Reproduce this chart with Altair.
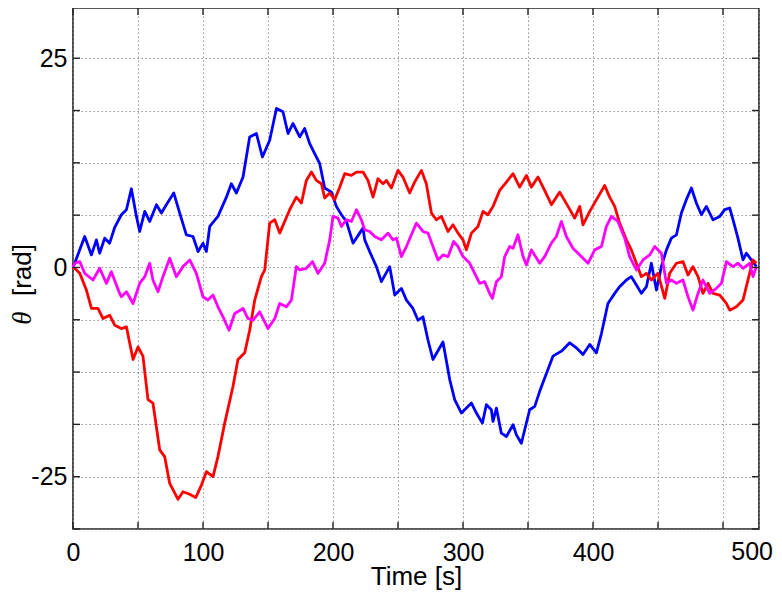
import altair as alt
import pandas as pd

# ---- data (time in axis tick units, angle in rad) ----
blue_t = [0, 1.3, 9.0, 14.2, 18.0, 20.5, 24.4, 28.2, 32.1, 37.2, 41.1, 44.9, 48.8, 51.3, 55.2, 59.0,
          64.2, 68.0, 71.8, 77.5, 82.1, 87.2, 92.3, 96.2, 100.0, 102.6, 105.2, 111.5, 118.0, 121.8,
          125.7, 130.8, 135.9, 141.1, 145.7, 151.3, 156.5, 161.5, 165.4, 169.2, 174.4, 178.2, 182.1,
          185.9, 189.8, 193.6, 198.8, 202.6, 206.5, 210.3, 215.4, 220.5, 223.1, 224.4, 228.2, 233.4,
          237.2, 243.6, 247.5, 252.6, 256.5, 261.5, 265.4, 269.2, 273.1, 276.9, 284.6, 289.8, 293.6,
          298.8, 306.5, 310.3, 314.9, 318.0, 321.8, 323.1, 325.7, 329.5, 333.4, 338.5, 341.1, 344.9,
          351.3, 355.2, 359.0, 369.2, 375.7, 382.1, 387.2, 392.3, 397.5, 402.6, 406.5, 411.5, 416.7,
          420.5, 425.7, 429.5, 433.4, 437.2, 441.1, 444.9, 448.8, 452.6, 456.5, 460.3, 464.2, 468.0,
          471.8, 475.7, 479.5, 483.4, 487.2, 492.3, 497.5, 501.3, 505.2, 507.7, 511.5, 515.4, 518.0,
          521.8, 525.7]
blue_v = [0, 0.5, 3.7, 1.5, 3.3, 1.7, 3.5, 2.9, 4.8, 6.3, 6.9, 9.4, 6.1, 4.3, 6.7, 5.5,
          7.5, 6.5, 7.5, 8.9, 6.5, 3.9, 3.7, 1.9, 2.9, 1.9, 4.9, 6.1, 8.4, 10.0,
          8.9, 10.8, 15.6, 16.0, 13.2, 15.2, 19.0, 18.6, 16.0, 17.2, 15.6, 16.6, 14.8,
          13.6, 12.4, 9.5, 9.0, 7.3, 6.3, 5.5, 2.9, 4.1, 4.7, 3.3, 1.9, 0.1,
          -1.7, 0.1, -3.3, -2.5, -3.9, -4.9, -6.3, -5.9, -8.7, -11.0, -8.9, -13.4, -15.8,
          -17.4, -16.2, -17.4, -18.6, -16.4, -17.0, -18.4, -16.8, -19.8, -20.2, -18.8, -20.0, -21.0,
          -17.0, -16.6, -14.8, -10.6, -10.0, -9.0, -9.6, -10.4, -9.2, -10.2, -7.9, -4.3, -3.1,
          -2.3, -1.5, -1.1, -2.1, -3.1, -2.3, 0.5, -2.7, 0.1, 2.1, 3.5, 3.9, 6.5,
          8.1, 9.5, 7.7, 6.3, 7.3, 5.7, 6.1, 6.9, 7.1, 5.7, 3.5, 0.9, 1.7,
          0.9, 0.1]

red_t = [0, 1.3, 5.2, 10.3, 14.2, 19.2, 23.1, 28.2, 32.1, 37.2, 41.1, 46.2, 50.0, 53.8, 57.7, 61.5,
         66.7, 70.5, 74.4, 80.8, 84.6, 89.8, 94.4, 98.8, 102.6, 107.7, 111.5, 116.7, 123.1, 126.9,
         132.1, 135.9, 139.8, 144.9, 147.5, 151.3, 155.2, 159.0, 166.7, 171.8, 175.7, 179.5, 183.4,
         187.2, 191.1, 193.6, 197.5, 201.3, 205.2, 209.0, 214.2, 218.0, 223.1, 226.9, 230.8, 234.6,
         238.5, 241.1, 244.9, 250.0, 253.8, 259.0, 262.8, 268.0, 271.8, 275.7, 279.5, 283.4, 288.5,
         292.3, 296.2, 300.0, 302.6, 306.5, 311.5, 315.4, 319.2, 323.1, 328.2, 333.4, 338.5, 343.6,
         348.8, 352.6, 357.7, 362.8, 368.0, 374.4, 380.8, 385.9, 389.8, 392.3, 397.5, 403.8, 409.0,
         412.8, 416.7, 420.5, 425.7, 429.5, 433.4, 437.2, 441.1, 444.9, 450.0, 455.2, 459.0, 464.2,
         469.2, 473.1, 476.9, 480.8, 484.6, 488.5, 492.3, 497.5, 502.6, 505.2, 510.3, 515.4, 519.2,
         523.1, 525.7]
red_v = [0, -0.1, -0.7, -2.7, -4.9, -4.9, -6.1, -5.7, -6.9, -7.3, -7.1, -11.0, -9.5, -10.6, -15.8, -16.2,
         -21.8, -22.6, -25.8, -27.7, -26.8, -27.1, -27.5, -26.0, -24.4, -25.0, -22.6, -18.6, -14.2, -11.0,
         -10.2, -7.5, -3.9, -1.1, -0.3, 5.3, 5.7, 4.1, 6.9, 8.4, 7.7, 10.4, 11.4,
         10.4, 10.0, 8.3, 8.9, 8.1, 9.6, 11.2, 11.0, 11.4, 11.4, 10.4, 8.4, 10.6,
         10.0, 10.4, 9.5, 11.6, 10.8, 8.9, 10.2, 11.6, 10.0, 6.5, 5.7, 6.1, 4.3,
         5.1, 4.1, 3.3, 2.1, 4.1, 4.9, 6.7, 6.3, 7.3, 9.2, 10.2, 11.2, 9.6,
         11.0, 9.6, 10.8, 9.2, 7.5, 9.0, 7.3, 5.9, 7.3, 5.1, 6.7, 8.4, 9.8,
         8.4, 7.3, 5.3, 3.3, 2.1, 0.5, -1.1, -0.7, -1.5, -0.7, -3.7, -0.7, 0.5,
         0.7, -0.9, 0.1, -1.1, -3.1, -1.9, -3.1, -3.3, -4.3, -5.1, -4.7, -3.9, -1.5,
         0.9, 0.5]

mag_t = [0, 1.3, 5.2, 9.0, 15.4, 20.5, 25.7, 29.5, 35.9, 37.2, 41.1, 46.2, 51.3, 55.2, 59.0, 61.5,
         65.4, 69.2, 74.4, 79.5, 84.6, 89.8, 94.9, 100.0, 103.8, 107.7, 111.5, 115.4, 120.0, 124.4,
         130.8, 134.6, 138.5, 143.6, 150.0, 155.2, 159.0, 164.2, 168.0, 171.8, 174.4, 179.5, 184.2,
         188.5, 193.6, 197.5, 200.0, 203.8, 206.5, 210.3, 214.2, 218.0, 221.8, 224.4, 228.2, 232.1,
         237.2, 242.3, 246.2, 248.8, 252.6, 256.5, 260.3, 264.2, 269.2, 273.1, 276.9, 280.8, 284.6,
         288.5, 292.8, 296.2, 300.0, 305.2, 309.0, 312.8, 316.7, 320.5, 322.6, 325.7, 329.5, 332.1,
         335.9, 338.5, 342.3, 346.2, 348.8, 352.6, 359.0, 362.8, 368.0, 371.8, 375.7, 379.5, 384.6,
         389.8, 396.2, 401.3, 406.5, 410.3, 414.2, 419.2, 424.4, 428.2, 433.4, 438.5, 443.6, 447.5,
         452.6, 456.5, 460.3, 464.2, 469.2, 473.1, 476.9, 480.8, 484.6, 489.8, 494.9, 498.8, 502.6,
         507.7, 511.5, 515.4, 520.5, 523.1, 525.7]
mag_v = [0, 0.5, 0.7, -0.7, -1.5, -0.1, -1.9, -0.5, -3.1, -3.5, -2.9, -4.3, -1.9, -1.1, 0.5, -1.5,
         -2.9, -1.1, 1.1, -1.1, 0.1, 0.9, -0.7, -3.5, -3.9, -3.3, -4.7, -5.9, -7.5, -5.5,
         -4.9, -6.1, -6.3, -5.3, -7.3, -6.1, -4.3, -4.7, -3.9, 0.1, -0.3, -0.1, 0.7,
         -0.7, 0.5, 3.3, 6.1, 5.9, 4.9, 5.7, 5.5, 6.9, 5.7, 4.5, 4.3, 3.7,
         3.3, 4.1, 3.3, 3.5, 1.3, 2.5, 3.9, 5.3, 4.3, 4.1, 2.5, 0.9, 1.5,
         1.3, 3.1, 2.5, 1.3, 0.5, -0.7, -1.9, -1.7, -3.1, -3.7, -1.7, -1.1, 1.3,
         2.5, 2.3, 3.9, 1.3, 0.3, 2.1, 0.5, 1.3, 2.9, 3.7, 5.5, 3.7, 2.3,
         1.5, 0.5, 2.1, 2.5, 4.9, 6.1, 5.5, 3.5, 1.3, -0.3, 0.9, 1.5, 2.5,
         1.7, -1.9, -1.5, -1.9, -1.5, -3.5, -5.1, -3.1, -1.5, -3.1, -2.5, -1.9, 0.7,
         0.1, 0.5, -0.1, 0.5, -1.1, 0.1]

x_ticks = [0, 50, 100, 150, 200, 250, 300, 350, 400, 450, 500]
x_end = 527.7
end_label = "500"
y_ticks = [-31.25, -25, -18.75, -12.5, -6.25, 0, 6.25, 12.5, 18.75, 25]

# ---- build tables ----
rows = []
for name, ts, vs in [("blue", blue_t, blue_v), ("red", red_t, red_v), ("magenta", mag_t, mag_v)]:
    for i, (t, v) in enumerate(zip(ts, vs)):
        rows.append({"t": t, "v": v, "s": name, "i": i})
df = pd.DataFrame(rows)
df_xt = pd.DataFrame({"t": x_ticks})
df_yt = pd.DataFrame({"v": y_ticks})

W, H = 686, 521
FONT = "Liberation Sans"
GRID = "#8c8c8c"

xscale = alt.Scale(domain=[0, x_end], nice=False, zero=False)
yscale = alt.Scale(domain=[-31.25, 31.0], nice=False, zero=False)

xaxis = alt.Axis(
    values=x_ticks + [x_end],
    labelExpr="(datum.value % 100 == 0 && datum.value < 500) ? '' + datum.value : ''",
    title="Time [s]", titleFont=FONT, titleFontSize=26, titleFontWeight="normal",
    titleColor="black", titleBaseline="alphabetic", titleY=55,
    labelFont=FONT, labelFontSize=25, labelColor="black", labelPadding=11,
    labelFlush=False, labelOverlap=False,
    ticks=False, tickSize=0, domain=False,
    grid=True, gridColor=GRID, gridDash=[1.4, 2.6], gridWidth=1,
)
yaxis = alt.Axis(
    values=y_ticks,
    labelExpr="datum.value == 25 ? '25' : (datum.value == 0 ? '0' : (datum.value == -25 ? '-25' : ''))",
    title=None,
    labelFont=FONT, labelFontSize=25, labelColor="black", labelPadding=6,
    labelFlush=False, labelOverlap=False,
    ticks=False, tickSize=0, domain=False,
    grid=True, gridColor=GRID, gridDash=[1.4, 2.6], gridWidth=1,
)

X = alt.X("t:Q", scale=xscale, axis=xaxis)
Y = alt.Y("v:Q", scale=yscale, axis=yaxis)

layers = []
for name, col in [("blue", "#0000ff"), ("red", "#ff0000"), ("magenta", "#ff00ff")]:
    layers.append(
        alt.Chart(df).transform_filter(alt.datum.s == name)
        .mark_line(color=col, strokeWidth=2.8, strokeJoin="round")
        .encode(x=X, y=Y, order="i:Q")
    )

TICK = "#222222"
tb = alt.Chart(df_xt).mark_rule(color=TICK, strokeWidth=1.4).encode(x=X, y=alt.value(H), y2=alt.value(H - 7))
tt = alt.Chart(df_xt).mark_rule(color=TICK, strokeWidth=1.4).encode(x=X, y=alt.value(0), y2=alt.value(7))
tl = alt.Chart(df_yt).mark_rule(color=TICK, strokeWidth=1.4).encode(y=Y, x=alt.value(0), x2=alt.value(7))
tr = alt.Chart(df_yt).mark_rule(color=TICK, strokeWidth=1.4).encode(y=Y, x=alt.value(W), x2=alt.value(W - 7))

# end-of-axis label sitting under the right border
endlab = alt.Chart(pd.DataFrame({"txt": [end_label]})).mark_text(
    font=FONT, fontSize=25, align="right", baseline="top", color="black"
).encode(text="txt:N", x=alt.value(W + 14), y=alt.value(H + 11))

theta = alt.Chart(pd.DataFrame({"txt": ["θ"]})).mark_text(
    font="Liberation Serif", fontSize=27, fontStyle="italic", angle=270,
    align="center", baseline="middle", color="black"
).encode(text="txt:N", x=alt.value(-50), y=alt.value(310))
rad = alt.Chart(pd.DataFrame({"txt": ["[rad]"]})).mark_text(
    font=FONT, fontSize=26, angle=270, align="center", baseline="middle", color="black"
).encode(text="txt:N", x=alt.value(-50), y=alt.value(262))

chart = alt.layer(*layers, tb, tt, tl, tr, endlab, theta, rad).properties(
    width=W, height=H,
    autosize=alt.AutoSizeParams(type="none"),
    padding={"left": 65, "top": 0, "right": 15, "bottom": 61},
    background="white",
).configure_view(stroke="#222222", strokeWidth=1.6)

chart.save("out.html", embed_options={"renderer": "svg", "actions": False})
